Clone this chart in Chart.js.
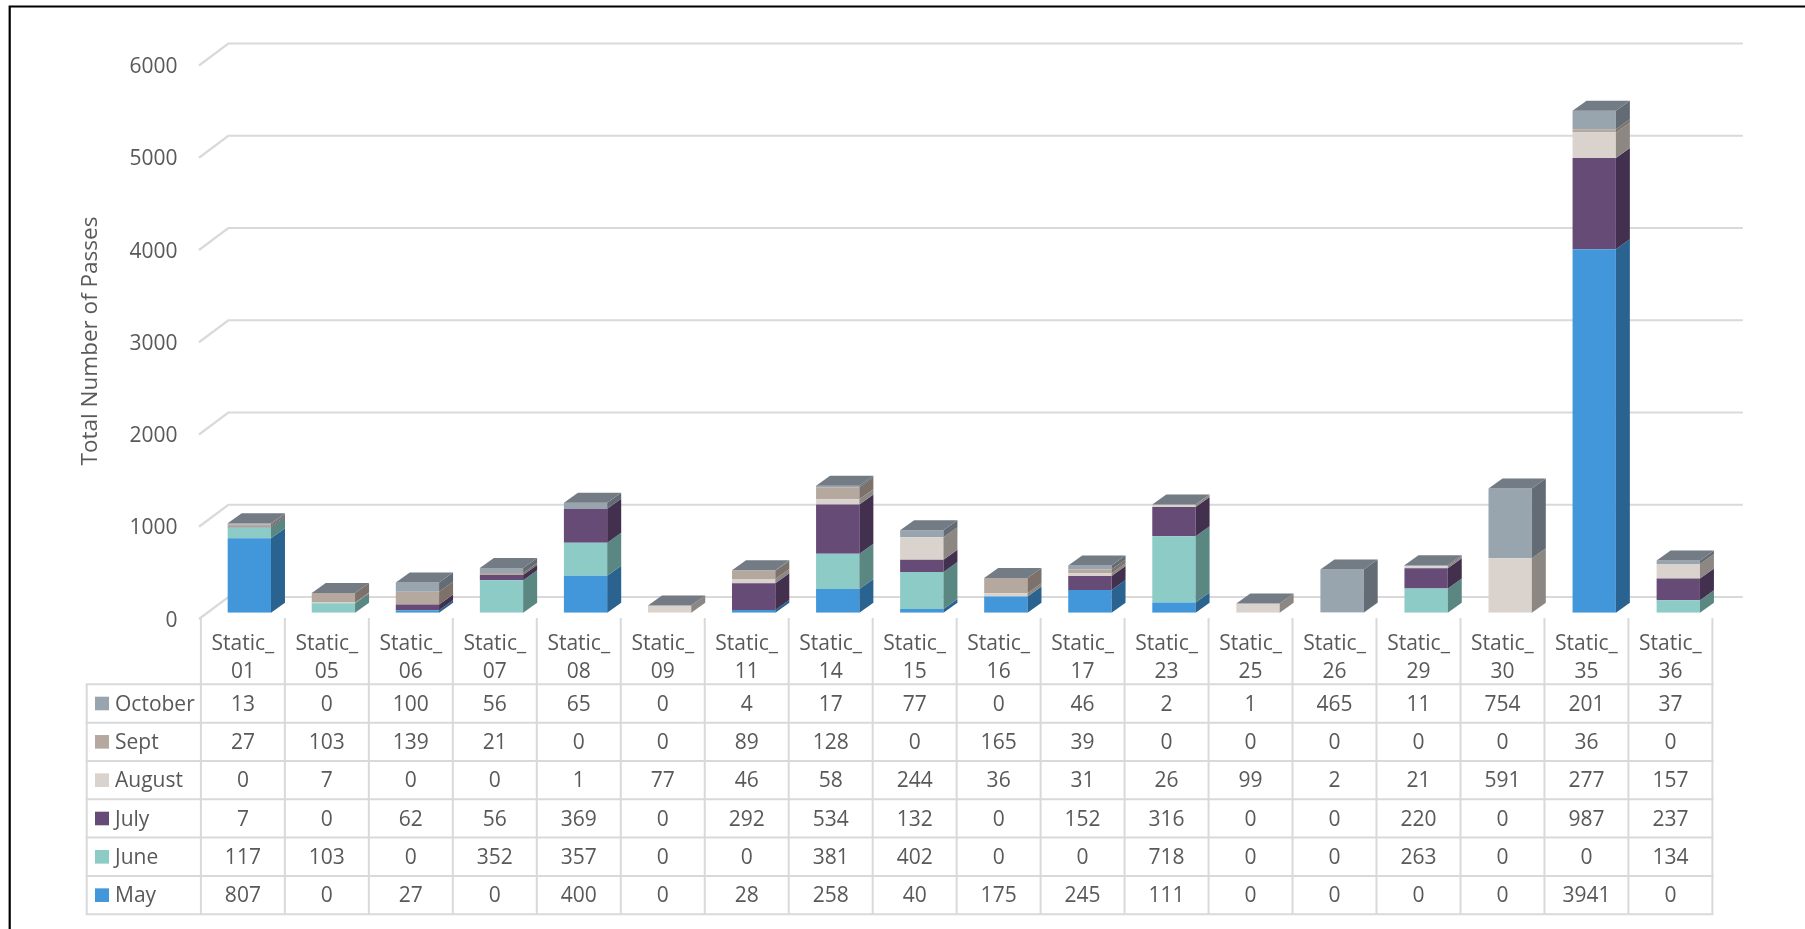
<!DOCTYPE html>
<html>
<head>
<meta charset="utf-8">
<title>Total Number of Passes by Station</title>
<script src="https://cdn.jsdelivr.net/npm/chart.js@4.4.1/dist/chart.umd.min.js"></script>
<style>
  html, body { margin: 0; padding: 0; background: #ffffff; }
  canvas { display: block; }
</style>
</head>
<body>
<canvas id="passes" width="1805" height="929"></canvas>
<script>
// Stations along the x axis
const categories = ['Static_01','Static_05','Static_06','Static_07','Static_08','Static_09',
  'Static_11','Static_14','Static_15','Static_16','Static_17','Static_23',
  'Static_25','Static_26','Static_29','Static_30','Static_35','Static_36'];

// Monthly pass counts per station (stacked bottom to top: May .. October)
const may     = [807, 0, 27, 0, 400, 0, 28, 258, 40, 175, 245, 111, 0, 0, 0, 0, 3941, 0];
const june    = [117, 103, 0, 352, 357, 0, 0, 381, 402, 0, 0, 718, 0, 0, 263, 0, 0, 134];
const july    = [7, 0, 62, 56, 369, 0, 292, 534, 132, 0, 152, 316, 0, 0, 220, 0, 987, 237];
const august  = [0, 7, 0, 0, 1, 77, 46, 58, 244, 36, 31, 26, 99, 2, 21, 591, 277, 157];
const sept    = [27, 103, 139, 21, 0, 0, 89, 128, 0, 165, 39, 0, 0, 0, 0, 0, 36, 0];
const october = [13, 0, 100, 56, 65, 0, 4, 17, 77, 0, 46, 2, 1, 465, 11, 754, 201, 37];

// Value axis ticks
const yTicks = [0, 1000, 2000, 3000, 4000, 5000, 6000];

const seriesNames = ['May', 'June', 'July', 'August', 'Sept', 'October'];
const seriesData  = [may, june, july, august, sept, october];
const frontColors = ['#4297DA', '#8DCBC6', '#654B76', '#D9D2CD', '#B5A99F', '#98A5AF'];
const sideColors  = ['#2A6390', '#5B8782', '#42304E', '#8C8782', '#7C726B', '#636C74'];
const topColor    = '#737B84';

const TEXT = '#595959';
const GRID = '#D9D9D9';
const FONT = '"Open Sans", "Liberation Sans", sans-serif';

// depth of each box and of the wall
const DX = 14, DY = 10;
const BACK_X = 21, BACK_Y = 15.7;     // bar plane -> back wall
const FRONT_X = 8.3, FRONT_Y = 6.3;   // bar plane -> front edge

const view3d = {
  id: 'view3d',
  beforeDatasetsDraw(chart) {
    const { ctx, scales: { y }, chartArea: a } = chart;
    ctx.save();
    // back wall gridlines with the left wall diagonal
    ctx.strokeStyle = GRID;
    ctx.lineWidth = 2.2;
    ctx.lineCap = 'butt';
    const backL = a.left + BACK_X, backR = a.right + BACK_X + 1.5;
    yTicks.forEach(v => {
      const yb = y.getPixelForValue(v);
      ctx.beginPath();
      ctx.moveTo(a.left - FRONT_X, yb + FRONT_Y);
      ctx.lineTo(backL, yb - BACK_Y);
      ctx.lineTo(backR, yb - BACK_Y);
      ctx.stroke();
    });
    // tick labels
    ctx.fillStyle = TEXT;
    ctx.font = '21px ' + FONT;
    ctx.textAlign = 'right';
    ctx.textBaseline = 'alphabetic';
    yTicks.forEach(v => {
      ctx.fillText(String(v), a.left - 29.8, y.getPixelForValue(v) + FRONT_Y + 7.6);
    });
    // axis title
    ctx.save();
    ctx.translate(91, 341);
    ctx.rotate(-Math.PI / 2);
    ctx.textAlign = 'center';
    ctx.textBaseline = 'middle';
    ctx.font = '22.5px ' + FONT;
    ctx.fillText('Total Number of Passes', 0, 0);
    ctx.restore();
    ctx.restore();
  },
  afterDatasetsDraw(chart) {
    const { ctx } = chart;
    ctx.save();
    const metas = seriesData.map((_, d) => chart.getDatasetMeta(d));
    categories.forEach((_, i) => {
      let topEl = null;
      metas.forEach((meta, d) => {
        const el = meta.data[i];
        if (!el) return;
        const r = el.x + el.width / 2;
        const yTop = Math.min(el.y, el.base), yBot = Math.max(el.y, el.base);
        if (yBot - yTop > 0.01) {
          ctx.fillStyle = sideColors[d];
          ctx.beginPath();
          ctx.moveTo(r, yTop);
          ctx.lineTo(r + DX, yTop - DY);
          ctx.lineTo(r + DX, yBot - DY);
          ctx.lineTo(r, yBot);
          ctx.closePath();
          ctx.fill();
        }
        topEl = el;
      });
      if (topEl) {
        const l = topEl.x - topEl.width / 2, r = topEl.x + topEl.width / 2;
        const t = Math.min(topEl.y, topEl.base);
        ctx.fillStyle = topColor;
        ctx.beginPath();
        ctx.moveTo(l, t);
        ctx.lineTo(l + DX, t - DY);
        ctx.lineTo(r + DX, t - DY);
        ctx.lineTo(r, t);
        ctx.closePath();
        ctx.fill();
      }
    });
    ctx.restore();
  },
  afterDraw(chart) {
    const { ctx, scales: { x } } = chart;
    ctx.save();
    const band = x.getPixelForValue(1) - x.getPixelForValue(0);
    const colW = band * 0.999;
    const colLeft = i => x.getPixelForValue(0) - band / 2 - 6.4 + i * colW;
    const n = categories.length;
    const tableRight = colLeft(n);
    const legendLeft = 86.7;
    const labelTop = 618, tableTop = 684.3, rowH = 38.33;
    const rows = seriesNames.length;
    const tableBottom = tableTop + rows * rowH;

    // grid of the data table
    ctx.strokeStyle = GRID;
    ctx.lineWidth = 2;
    for (let i = 0; i <= n; i++) {
      const xx = colLeft(i);
      ctx.beginPath();
      ctx.moveTo(xx, labelTop);
      ctx.lineTo(xx, tableBottom);
      ctx.stroke();
    }
    ctx.beginPath();
    ctx.moveTo(legendLeft, tableTop);
    ctx.lineTo(legendLeft, tableBottom);
    ctx.stroke();
    for (let r = 0; r <= rows; r++) {
      const yy = tableTop + r * rowH;
      ctx.beginPath();
      ctx.moveTo(legendLeft - 1, yy);
      ctx.lineTo(tableRight + 1, yy);
      ctx.stroke();
    }

    ctx.fillStyle = TEXT;
    ctx.font = '21px ' + FONT;
    ctx.textBaseline = 'alphabetic';

    // category labels, split after the underscore
    ctx.textAlign = 'center';
    categories.forEach((c, i) => {
      const cx = colLeft(i) + colW / 2;
      const cut = c.indexOf('_') + 1;
      ctx.fillText(c.slice(0, cut), cx, 650);
      ctx.fillText(c.slice(cut), cx, 678.3);
    });

    // rows: October at the top down to May
    for (let r = 0; r < rows; r++) {
      const d = rows - 1 - r;
      const rowTop = tableTop + r * rowH;
      const base = rowTop + 26.4;
      ctx.fillStyle = frontColors[d];
      ctx.fillRect(95, rowTop + 12.4, 14, 13.6);
      ctx.fillStyle = TEXT;
      ctx.textAlign = 'left';
      ctx.fillText(seriesNames[d], 115, base);
      ctx.textAlign = 'center';
      seriesData[d].forEach((v, i) => {
        ctx.fillText(String(v), colLeft(i) + colW / 2, base);
      });
    }

    // outer frame
    ctx.strokeStyle = '#000000';
    ctx.lineWidth = 2.2;
    ctx.beginPath();
    ctx.moveTo(9.7, 929);
    ctx.lineTo(9.7, 6.5);
    ctx.lineTo(1805, 6.5);
    ctx.stroke();
    ctx.restore();
  }
};

function build() {
  new Chart(document.getElementById('passes'), {
    type: 'bar',
    data: {
      labels: categories,
      datasets: seriesData.map((data, d) => ({
        label: seriesNames[d],
        data: data,
        backgroundColor: frontColors[d],
        borderWidth: 0,
        inflateAmount: 0,
        barThickness: 43.3,
        stack: 'passes'
      }))
    },
    options: {
      responsive: false,
      animation: false,
      layout: { padding: { left: 207.3, right: 84.7, top: 59.2, bottom: 316.3 } },
      plugins: { legend: { display: false }, tooltip: { enabled: false } },
      scales: {
        x: { stacked: true, display: false, grid: { display: false } },
        y: {
          stacked: true, display: false,
          min: yTicks[0], max: yTicks[yTicks.length - 1],
          ticks: { stepSize: yTicks[1] - yTicks[0] }
        }
      }
    },
    plugins: [view3d]
  });
}

const fontReady = document.fonts && document.fonts.load
  ? Promise.all([document.fonts.load('21px "Open Sans"'), document.fonts.load('22.5px "Open Sans"')]).catch(() => {})
  : Promise.resolve();
fontReady.then(build, build);
</script>
</body>
</html>
